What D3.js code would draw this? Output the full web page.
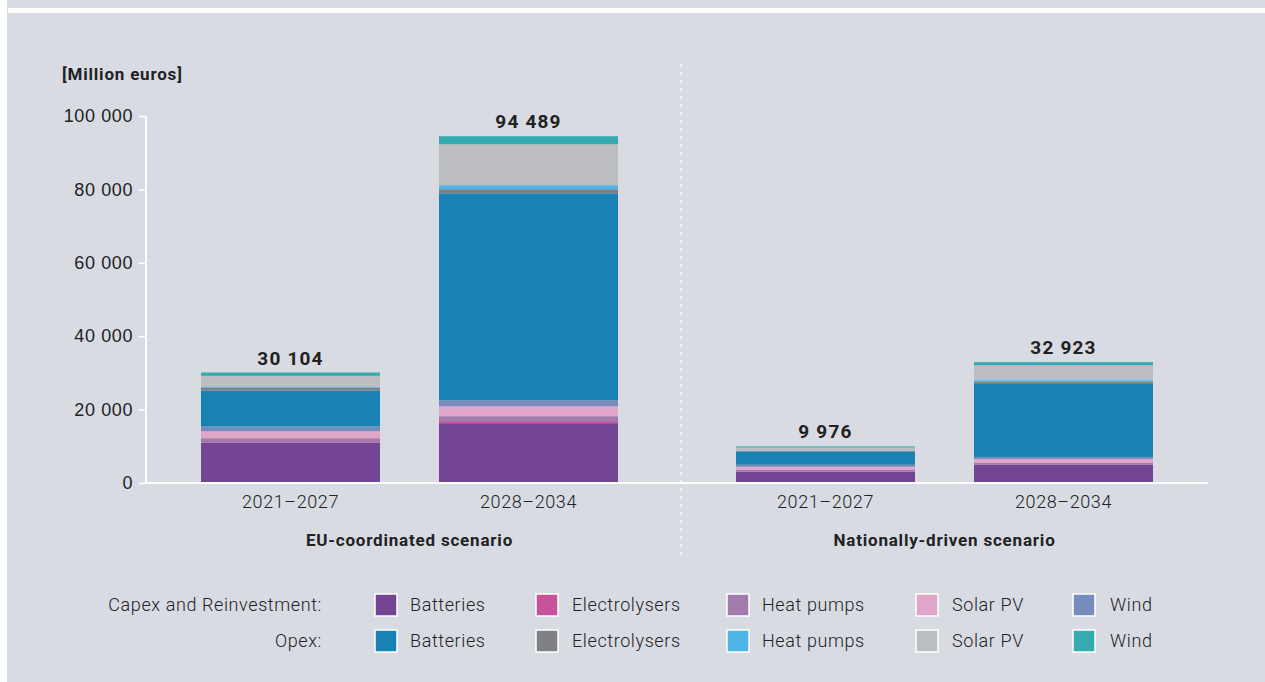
<!DOCTYPE html>
<html>
<head>
<meta charset="utf-8">
<script src="https://cdn.jsdelivr.net/npm/d3@7"></script>
<style>
  body { margin: 0; background: #fff; }
  svg { display: block; font-family: Roboto, "Noto Sans", sans-serif; }
</style>
</head>
<body>
<script>
// data (million euros)
var groups = ["EU-coordinated scenario", "Nationally-driven scenario"];
var periods = ["2021–2027", "2028–2034"];
var totals = [30104, 94489, 9976, 32923];
var seriesKeys = ["capBat", "capEly", "capHp", "capPv", "capWind",
                  "opBat", "opEly", "opHp", "opPv", "opWind"];
var capexBatteries     = [11000, 16300, 3100, 4900];
var capexElectrolysers = [100, 550, 30, 50];
var capexHeatPumps     = [1100, 1350, 500, 550];
var capexSolarPV       = [1900, 2700, 800, 1050];
var capexWind          = [1300, 1650, 550, 550];
var opexBatteries      = [9800, 56400, 3600, 20100];
var opexElectrolysers  = [800, 1100, 150, 300];
var opexHeatPumps      = [300, 1100, 100, 500];
var opexSolarPV        = [2900, 11150, 850, 4100];
var opexWind           = [904, 2189, 296, 823];
var yTicks = [0, 20000, 40000, 60000, 80000, 100000];
var legendNames = ["Batteries", "Electrolysers", "Heat pumps", "Solar PV", "Wind"];

var colors = ["#734592", "#c8519c", "#a27aac", "#e0a6c9", "#788bbd",
              "#1882b4", "#808184", "#4db6e6", "#bdbec2", "#35aab0"];

var seriesVals = [capexBatteries, capexElectrolysers, capexHeatPumps, capexSolarPV, capexWind,
                  opexBatteries, opexElectrolysers, opexHeatPumps, opexSolarPV, opexWind];

var table = totals.map(function (t, i) {
    var row = { id: i, group: groups[Math.floor(i / 2)], period: periods[i % 2], total: t };
    seriesKeys.forEach(function (k, j) { row[k] = seriesVals[j][i]; });
    return row;
});

var W = 1265, H = 682;
var svg = d3.select("body").append("svg").attr("width", W).attr("height", H);

// light text style used almost everywhere
function light(sel) {
    return sel.attr("fill", "#222").style("font-size", "18px").style("font-weight", 300)
        .style("letter-spacing", "0.6px");
}
function bold(sel, size, ls) {
    return sel.attr("fill", "#222").style("font-size", size + "px").style("font-weight", 700)
        .style("letter-spacing", ls + "px");
}

// panel background
svg.append("rect").attr("width", W).attr("height", H).attr("fill", "#fff");
svg.append("rect").attr("x", 7).attr("y", 0).attr("width", W - 7).attr("height", H).attr("fill", "#d8dbe2");
svg.append("rect").attr("x", 8).attr("y", 8).attr("width", W - 8).attr("height", 5).attr("fill", "#fff");

var x0 = 146, x1 = 1208, yTop = 116, yBot = 483;

var y = d3.scaleLinear().domain([0, 100000]).range([yBot, yTop]);
var xBar = d3.scaleOrdinal().domain([0, 1, 2, 3]).range([290.5, 528.5, 825.5, 1063.5]);
var barW = 179;
var spaced = function (v) { return d3.format(",")(v).replace(/,/g, " "); };

// y axis
var yAxis = d3.axisLeft(y).tickValues(yTicks).tickSize(7).tickPadding(6).tickFormat(spaced);
var ga = svg.append("g").attr("transform", "translate(" + x0 + ",0)").call(yAxis);
ga.select(".domain").remove();
ga.append("line").attr("x1", 0).attr("x2", 0).attr("y1", yTop).attr("y2", yBot)
    .attr("stroke", "#fff").attr("stroke-width", 2);
ga.selectAll(".tick line").attr("stroke", "#fff").attr("stroke-width", 1.5);
light(ga.selectAll(".tick text")).attr("font-family", null);

bold(svg.append("text").attr("x", 62).attr("y", 80).text("[Million euros]"), 17, 0.8);

// divider
svg.append("line").attr("x1", 681).attr("x2", 681).attr("y1", 64).attr("y2", 560)
    .attr("stroke", "#fff").attr("stroke-width", 1.2).attr("stroke-dasharray", "3,5");

// stacked bars
var stack = d3.stack().keys(seriesKeys);
var layers = stack(table);

svg.append("g").selectAll("g")
    .data(layers)
    .enter().append("g")
    .attr("fill", function (d, i) { return colors[i]; })
    .selectAll("rect")
    .data(function (d) { return d; })
    .enter().append("rect")
    .attr("x", function (d) { return xBar(d.data.id) - barW / 2; })
    .attr("width", barW)
    .attr("y", function (d) { return y(d[1]); })
    .attr("height", function (d) { return y(d[0]) - y(d[1]); });

// x axis line
svg.append("line").attr("x1", x0).attr("x2", x1).attr("y1", yBot).attr("y2", yBot)
    .attr("stroke", "#fff").attr("stroke-width", 2);

// totals
bold(svg.append("g").selectAll("text")
    .data(table)
    .enter().append("text")
    .attr("x", function (d) { return xBar(d.id); })
    .attr("y", function (d) { return y(d.total) - 8; })
    .attr("text-anchor", "middle")
    .text(function (d) { return spaced(d.total); }), 19, 1.2);

// period labels
light(svg.append("g").selectAll("text")
    .data(table)
    .enter().append("text")
    .attr("x", function (d) { return xBar(d.id); })
    .attr("y", 508)
    .attr("text-anchor", "middle")
    .text(function (d) { return d.period; }));

// group labels
bold(svg.append("g").selectAll("text")
    .data(groups)
    .enter().append("text")
    .attr("x", function (d, i) { return (xBar(i * 2) + xBar(i * 2 + 1)) / 2; })
    .attr("y", 546)
    .attr("text-anchor", "middle")
    .text(function (d) { return d; }), 17, 0.8);

// legend
var rowLabels = ["Capex and Reinvestment:", "Opex:"];
var rowY = [605, 641];
var swX = [375, 536, 727, 916, 1073];
var txX = [410, 572, 762, 952, 1110];

var leg = svg.append("g");
rowLabels.forEach(function (lab, r) {
    light(leg.append("text").attr("x", 322).attr("y", rowY[r]).attr("dy", "0.35em")
        .attr("text-anchor", "end").text(lab));
    legendNames.forEach(function (n, i) {
        leg.append("rect").attr("x", swX[i]).attr("y", rowY[r] - 11)
            .attr("width", 22).attr("height", 22)
            .attr("fill", colors[r * 5 + i]).attr("stroke", "#fff").attr("stroke-width", 1.5);
        light(leg.append("text").attr("x", txX[i]).attr("y", rowY[r]).attr("dy", "0.35em").text(n));
    });
});
</script>
</body>
</html>
